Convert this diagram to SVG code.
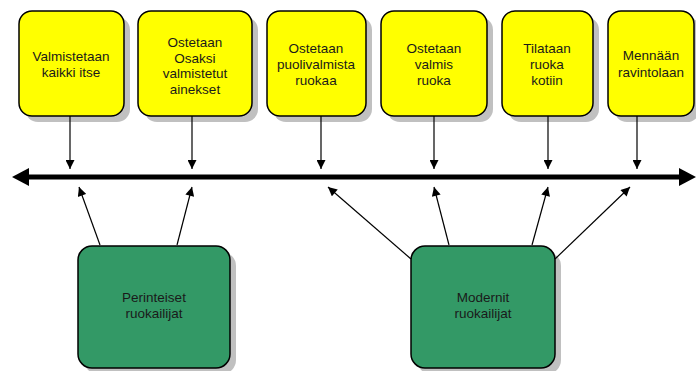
<svg xmlns="http://www.w3.org/2000/svg" width="696" height="371" viewBox="0 0 696 371">
  <style>
    .shadow { fill: #c0c0c0; }
    .opt { fill: #ffff00; stroke: #000; stroke-width: 1.5; }
    .grp { fill: #339966; stroke: #000; stroke-width: 1.5; }
    text { font-family: "Liberation Sans", Arial, sans-serif; font-size: 13.5px; fill: #1a1a1a; text-anchor: middle; }
    .thin { stroke: #000; stroke-width: 1.2; fill: none; marker-end: url(#tip); }
    .axis { stroke: #000; stroke-width: 5; fill: none; }
  </style>
  <defs>
    <marker id="tip" viewBox="0 0 10 10" refX="10" refY="5" markerWidth="10" markerHeight="9" markerUnits="userSpaceOnUse" orient="auto">
      <path d="M0,0 L10,5 L0,10 z" fill="#000"/>
    </marker>
  </defs>

  <rect width="696" height="371" fill="#fff"/>

  <!-- options along the scale -->
  <g id="opt-itse">
    <rect class="shadow" x="25" y="17" width="105" height="105" rx="13"/>
    <rect class="opt" x="19" y="11" width="105" height="105" rx="13"/>
    <text x="71" y="61">Valmistetaan</text>
    <text x="71" y="77">kaikki itse</text>
  </g>
  <g id="opt-osaksi">
    <rect class="shadow" x="144" y="17" width="114" height="105" rx="13"/>
    <rect class="opt" x="138" y="11" width="114" height="105" rx="13"/>
    <text x="195" y="47">Ostetaan</text>
    <text x="195" y="63">Osaksi</text>
    <text x="195" y="78">valmistetut</text>
    <text x="195" y="94">ainekset</text>
  </g>
  <g id="opt-puolivalmis">
    <rect class="shadow" x="273" y="17" width="99" height="105" rx="13"/>
    <rect class="opt" x="267" y="11" width="99" height="105" rx="13"/>
    <text x="316" y="53">Ostetaan</text>
    <text x="316" y="69">puolivalmista</text>
    <text x="316" y="85">ruokaa</text>
  </g>
  <g id="opt-valmis">
    <rect class="shadow" x="387" y="17" width="106" height="105" rx="13"/>
    <rect class="opt" x="381" y="11" width="106" height="105" rx="13"/>
    <text x="434" y="53">Ostetaan</text>
    <text x="434" y="69">valmis</text>
    <text x="434" y="85">ruoka</text>
  </g>
  <g id="opt-kotiin">
    <rect class="shadow" x="508" y="17" width="91" height="105" rx="13"/>
    <rect class="opt" x="502" y="11" width="91" height="105" rx="13"/>
    <text x="547" y="53">Tilataan</text>
    <text x="547" y="69">ruoka</text>
    <text x="547" y="85">kotiin</text>
  </g>
  <g id="opt-ravintola">
    <rect class="shadow" x="614" y="17" width="86" height="105" rx="13"/>
    <rect class="opt" x="608" y="11" width="86" height="105" rx="13"/>
    <text x="651" y="60">Mennään</text>
    <text x="651" y="77">ravintolaan</text>
  </g>

  <!-- eater groups -->
  <g id="grp-perinteiset">
    <rect class="shadow" x="84" y="252" width="152" height="122" rx="14"/>
    <rect class="grp" x="78" y="246" width="152" height="122" rx="14"/>
    <text x="154" y="302">Perinteiset</text>
    <text x="154" y="318">ruokailijat</text>
  </g>
  <g id="grp-modernit">
    <rect class="shadow" x="417" y="252" width="144" height="122" rx="14"/>
    <rect class="grp" x="411" y="246" width="144" height="122" rx="14"/>
    <text x="483" y="302">Modernit</text>
    <text x="483" y="318">ruokailijat</text>
  </g>

  <!-- connectors -->
  <g id="connectors">
    <!-- double-headed scale -->
    <line class="axis" x1="26" y1="177" x2="682" y2="177"/>
    <path d="M12,177 L29,168 L29,186 z" fill="#000"/>
    <path d="M696,177 L679,168 L679,186 z" fill="#000"/>

    <!-- options down to the scale -->
    <line class="thin" x1="70" y1="116" x2="70" y2="169"/>
    <line class="thin" x1="192" y1="116" x2="192" y2="169"/>
    <line class="thin" x1="321" y1="116" x2="321" y2="169"/>
    <line class="thin" x1="434" y1="116" x2="434" y2="169"/>
    <line class="thin" x1="548" y1="116" x2="548" y2="169"/>
    <line class="thin" x1="637" y1="116" x2="637" y2="169"/>

    <!-- groups up to the scale -->
    <line class="thin" x1="100" y1="245" x2="79" y2="187"/>
    <line class="thin" x1="177" y1="245" x2="192" y2="187"/>
    <line class="thin" x1="411" y1="259" x2="328" y2="187"/>
    <line class="thin" x1="449" y1="245" x2="434" y2="187"/>
    <line class="thin" x1="532" y1="245" x2="548" y2="187"/>
    <line class="thin" x1="555" y1="259" x2="630" y2="187"/>
  </g>
</svg>
